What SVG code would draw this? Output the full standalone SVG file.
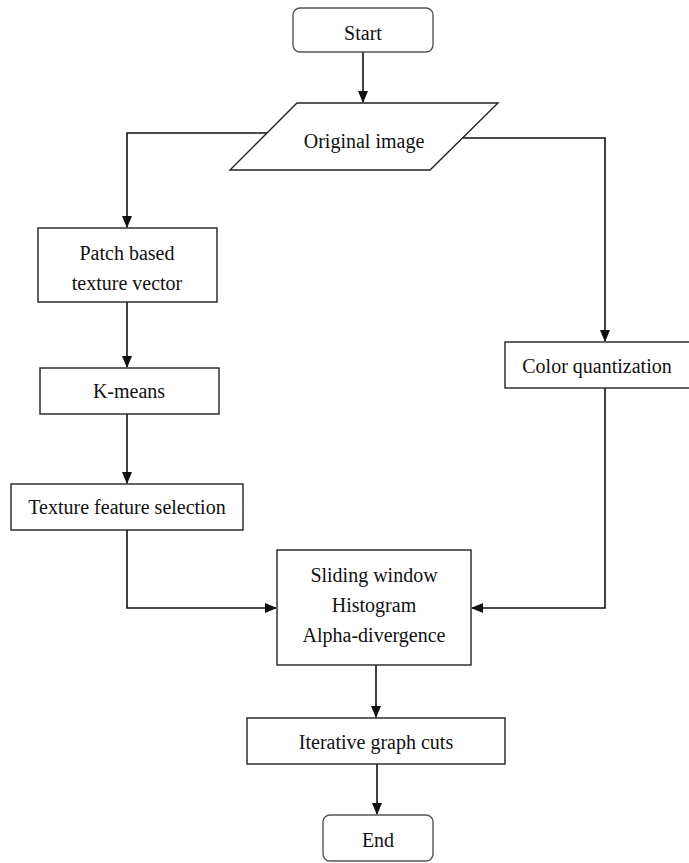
<svg xmlns="http://www.w3.org/2000/svg" width="689" height="863" viewBox="0 0 689 863">
<style>
.box{fill:#fff;stroke:#222;stroke-width:1.4}
.rb{fill:#fff;stroke:#555;stroke-width:1.4}
.t{font-family:"Liberation Serif","Times New Roman",serif;font-size:20px;fill:#111;text-anchor:middle}
.c{fill:none;stroke:#111;stroke-width:1.6}
</style>
<defs>
<marker id="ah" markerWidth="12" markerHeight="12" refX="11" refY="6" orient="auto" markerUnits="userSpaceOnUse">
<path d="M0,1 L12,6 L0,11 Z" fill="#111"/>
</marker>
</defs>
<rect width="689" height="863" fill="#fff"/>
<g id="connectors">
<path class="c" d="M363,52 V102" marker-end="url(#ah)"/>
<path class="c" d="M267,133 H127 V227" marker-end="url(#ah)"/>
<path class="c" d="M463,138 H605 V341" marker-end="url(#ah)"/>
<path class="c" d="M127,302 V367" marker-end="url(#ah)"/>
<path class="c" d="M127,414 V483" marker-end="url(#ah)"/>
<path class="c" d="M127,530 V608 H276" marker-end="url(#ah)"/>
<path class="c" d="M605,388 V608 H472" marker-end="url(#ah)"/>
<path class="c" d="M376,665 V717" marker-end="url(#ah)"/>
<path class="c" d="M377,764 V814" marker-end="url(#ah)"/>
</g>
<g id="start">
<rect class="rb" x="293" y="8" width="140" height="44" rx="7"/>
<text class="t" x="363" y="40">Start</text>
</g>
<g id="original">
<polygon class="box" points="297,103 498,103 430,170 230,170"/>
<text class="t" x="364" y="148">Original image</text>
</g>
<g id="patch">
<rect class="box" x="38" y="228" width="179" height="74"/>
<text class="t" x="127" y="260">Patch based</text>
<text class="t" x="127" y="290">texture vector</text>
</g>
<g id="kmeans">
<rect class="box" x="40" y="368" width="179" height="46"/>
<text class="t" x="129" y="398">K-means</text>
</g>
<g id="texture">
<rect class="box" x="11" y="484" width="232" height="46"/>
<text class="t" x="127" y="514">Texture feature selection</text>
</g>
<g id="color">
<rect class="box" x="505" y="342" width="190" height="46"/>
<text class="t" x="597" y="373">Color quantization</text>
</g>
<g id="sliding">
<rect class="box" x="277" y="550" width="194" height="115"/>
<text class="t" x="374" y="582">Sliding window</text>
<text class="t" x="374" y="612">Histogram</text>
<text class="t" x="374" y="642">Alpha-divergence</text>
</g>
<g id="iterative">
<rect class="box" x="247" y="718" width="258" height="46"/>
<text class="t" x="376" y="749">Iterative graph cuts</text>
</g>
<g id="end">
<rect class="rb" x="323" y="815" width="110" height="46" rx="7"/>
<text class="t" x="378" y="847">End</text>
</g>
</svg>
